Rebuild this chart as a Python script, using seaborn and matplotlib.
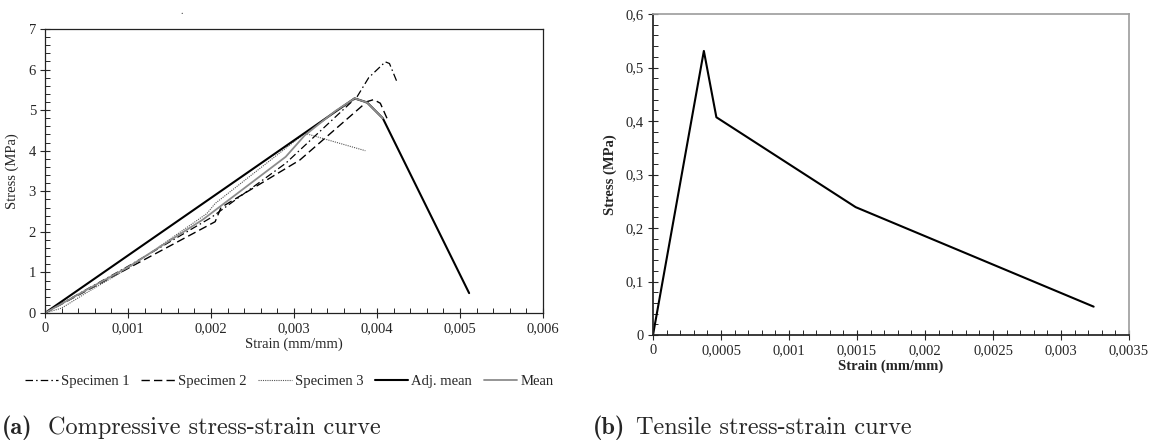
import pandas as pd
import matplotlib.pyplot as plt
import seaborn as sns

# Set style
sns.set_theme(style="ticks")
plt.rcParams['font.family'] = ['Liberation Serif', 'DejaVu Serif']

W, H = 1156, 442

# Compressive test, strain (mm/mm) and stress (MPa)
spec1_strain = [0, 0.0005, 0.001, 0.002, 0.0029, 0.00376, 0.0039, 0.0041, 0.00415, 0.00424]
spec1_stress = [0, 0.58, 1.15, 2.35, 3.69, 5.33, 5.8, 6.19, 6.15, 5.7]

spec2_strain = [0, 0.0005, 0.001, 0.00205, 0.00212, 0.00307, 0.00388, 0.00396, 0.00404, 0.00412]
spec2_stress = [0, 0.55, 1.1, 2.25, 2.6, 3.77, 5.21, 5.26, 5.17, 4.8]

spec3_strain = [0, 0.0002, 0.0005, 0.001, 0.00195, 0.00205, 0.00313, 0.00386]
spec3_stress = [0, 0.12, 0.5, 1.1, 2.45, 2.7, 4.43, 4.0]

adj_strain = [0, 0.00373, 0.00388, 0.00407, 0.00511]
adj_stress = [0, 5.29, 5.19, 4.8, 0.49]

mean_strain = [0, 0.0005, 0.001, 0.0019, 0.0029, 0.00313, 0.0035, 0.00373, 0.00388, 0.00407]
mean_stress = [0, 0.57, 1.13, 2.3, 3.85, 4.38, 4.98, 5.29, 5.19, 4.8]

comp_names = ['Specimen 1', 'Specimen 2', 'Specimen 3', 'Adj. mean', 'Mean']
comp_x_ticks = [0, 0.001, 0.002, 0.003, 0.004, 0.005, 0.006]
comp_x_labels = ['0', '0,001', '0,002', '0,003', '0,004', '0,005', '0,006']
comp_y_ticks = [0, 1, 2, 3, 4, 5, 6, 7]
comp_y_labels = ['0', '1', '2', '3', '4', '5', '6', '7']

# Tensile test
tens_strain = [0, 0.000374, 0.000466, 0.00149, 0.00324]
tens_stress = [0, 0.531, 0.407, 0.239, 0.053]

tens_x_ticks = [0, 0.0005, 0.001, 0.0015, 0.002, 0.0025, 0.003, 0.0035]
tens_x_labels = ['0', '0,0005', '0,001', '0,0015', '0,002', '0,0025', '0,003', '0,0035']
tens_y_ticks = [0, 0.1, 0.2, 0.3, 0.4, 0.5, 0.6]
tens_y_labels = ['0', '0,1', '0,2', '0,3', '0,4', '0,5', '0,6']

comp_df = pd.concat([
    pd.DataFrame({'strain': xs, 'stress': ys, 'series': name})
    for name, xs, ys in zip(comp_names,
                            [spec1_strain, spec2_strain, spec3_strain, adj_strain, mean_strain],
                            [spec1_stress, spec2_stress, spec3_stress, adj_stress, mean_stress])
])
tens_df = pd.DataFrame({'strain': tens_strain, 'stress': tens_stress})

line_styles = {
    'Specimen 1': dict(color='black', lw=0.9, dashes=(6, 2.5, 1.2, 2.5)),
    'Specimen 2': dict(color='black', lw=1.0, dashes=(6, 3)),
    'Specimen 3': dict(color='#555555', lw=0.8, dashes=(1, 1)),
    'Adj. mean': dict(color='black', lw=1.5, dashes=()),
    'Mean': dict(color='#8c8c8c', lw=1.3, dashes=()),
}

fig = plt.figure(figsize=(W / 100, H / 100), dpi=100)
ax1 = fig.add_axes([45 / W, 1 - 313 / H, 498 / W, 284 / H])
ax2 = fig.add_axes([653 / W, 1 - 335 / H, 476 / W, 321 / H])

# (a) compressive curves
for name in comp_names:
    st = line_styles[name]
    sub = comp_df[comp_df['series'] == name]
    sns.lineplot(data=sub, x='strain', y='stress', ax=ax1, sort=False, estimator=None,
                 color=st['color'], lw=st['lw'], label=name)
    if st['dashes']:
        ax1.lines[-1].set_dashes(st['dashes'])

ax1.set_xlim(0, 0.006)
ax1.set_ylim(0, 7)
ax1.set_xticks(comp_x_ticks)
ax1.set_xticklabels(comp_x_labels)
ax1.set_yticks(comp_y_ticks)
ax1.set_yticklabels(comp_y_labels)
ax1.set_xticks([t / 10000 for t in range(0, 61, 2)], minor=True)
ax1.set_yticks([t / 5 for t in range(0, 36)], minor=True)
ax1.set_xlabel('Strain (mm/mm)', fontsize=10.5, labelpad=2)
ax1.set_ylabel('Stress (MPa)', fontsize=10.5, labelpad=7)
ax1.tick_params(which='major', direction='inout', length=7, width=0.8, labelsize=10.5, pad=3)
ax1.tick_params(which='minor', direction='in', length=3.5, width=0.7)
for sp in ax1.spines.values():
    sp.set_color('#222222')
    sp.set_linewidth(0.9)

handles, labels = ax1.get_legend_handles_labels()
ax1.legend(handles, labels, ncol=5, loc='center', bbox_to_anchor=(0.49, -0.24),
           frameon=False, fontsize=10.5, handlelength=2.3, handletextpad=0.2, columnspacing=0.8)

# (b) tensile curve
sns.lineplot(data=tens_df, x='strain', y='stress', ax=ax2, sort=False, estimator=None,
             color='black', lw=1.5)
ax2.set_xlim(0, 0.0035)
ax2.set_ylim(0, 0.6)
ax2.set_xticks(tens_x_ticks)
ax2.set_xticklabels(tens_x_labels)
ax2.set_yticks(tens_y_ticks)
ax2.set_yticklabels(tens_y_labels)
ax2.set_xticks([t / 10000 for t in range(0, 36)], minor=True)
ax2.set_yticks([t / 50 for t in range(0, 31)], minor=True)
ax2.set_xlabel('Strain (mm/mm)', fontsize=10.5, fontweight='bold', labelpad=2)
ax2.set_ylabel('Stress (MPa)', fontsize=10.5, fontweight='bold', labelpad=6)
ax2.tick_params(which='major', direction='inout', length=7, width=0.8, labelsize=10.5, pad=3)
ax2.tick_params(which='minor', direction='in', length=3.5, width=0.7)
for side in ['left', 'bottom']:
    ax2.spines[side].set_color('#222222')
for side in ['top', 'right']:
    ax2.spines[side].set_color('#a0a0a0')

# stray mark above the left chart
fig.text(182 / W, 1 - 12 / H, '.', fontsize=7, ha='center', va='center')

# captions
cap_y = 1 - 434 / H
fig.text(2 / W, cap_y, '(a)', family='cmb10', fontsize=17.5, va='baseline')
fig.text(48 / W, cap_y, 'Compressive stress-strain curve', family='cmr10', fontsize=17.5, va='baseline')
fig.text(593 / W, cap_y, '(b)', family='cmb10', fontsize=17.5, va='baseline')
fig.text(636 / W, cap_y, 'Tensile stress-strain curve', family='cmr10', fontsize=17.5, va='baseline')

fig.savefig('out.png', dpi=100)
